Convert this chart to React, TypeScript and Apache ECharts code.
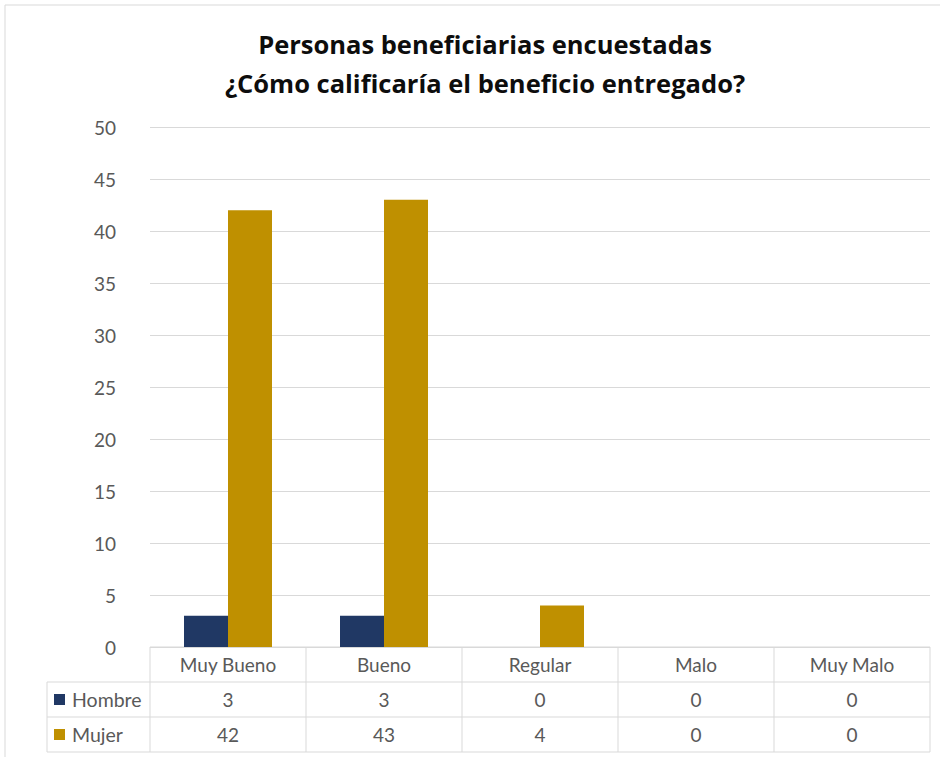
import React, { useEffect, useRef } from "react";
import * as echarts from "echarts";

const categories = ["Muy Bueno", "Bueno", "Regular", "Malo", "Muy Malo"];
const seriesNames = ["Hombre", "Mujer"];
const hombre = [3, 3, 0, 0, 0];
const mujer = [42, 43, 4, 0, 0];
const colors = ["#203864", "#BF9000"];
const titleLines = ["Personas beneficiarias encuestadas", "¿Cómo calificaría el beneficio entregado?"];

const W = 940;
const H = 757;
const L = 150;
const R = 930;
const T = 127;
const B = 647;
const rowH = 35;
const tableLeft = 47;
const FONT = "Lato, 'Open Sans', sans-serif";
const TFONT = "'Open Sans', Lato, sans-serif";
const FS = 19;
const TXT = "#595959";
const LINE = "#d9d9d9";

export default function App() {
  const ref = useRef<HTMLDivElement>(null);
  useEffect(() => {
    if (!ref.current) return;
    const chart = echarts.init(ref.current, undefined, { renderer: "svg" });
    const n = categories.length;
    const cw = (R - L) / n;
    const graphic: any[] = [];
    graphic.push({
      type: "rect",
      shape: { x: 5, y: 5, width: W, height: H },
      style: { fill: "none", stroke: LINE, lineWidth: 1 },
      silent: true,
    });
    titleLines.forEach((t, i) => {
      graphic.push({
        type: "text",
        x: 485,
        y: 44 + i * 39,
        style: { text: t, fill: "#0d0d0d", font: `bold 25.5px ${TFONT}`, align: "center", verticalAlign: "middle" },
        silent: true,
      });
    });
    const rowsY = [B, B + rowH, B + 2 * rowH, B + 3 * rowH];
    rowsY.forEach((y, i) => {
      graphic.push({
        type: "line",
        shape: { x1: i === 0 ? L : tableLeft, y1: y, x2: R, y2: y },
        style: { stroke: LINE, lineWidth: 1 },
        silent: true,
      });
    });
    graphic.push({
      type: "line",
      shape: { x1: tableLeft, y1: B + rowH, x2: tableLeft, y2: B + 3 * rowH },
      style: { stroke: LINE, lineWidth: 1 },
      silent: true,
    });
    for (let i = 0; i <= n; i++) {
      const x = L + i * cw;
      graphic.push({
        type: "line",
        shape: { x1: x, y1: B, x2: x, y2: B + 3 * rowH },
        style: { stroke: LINE, lineWidth: 1 },
        silent: true,
      });
    }
    const rows = [hombre, mujer];
    categories.forEach((c, i) => {
      const cx = L + (i + 0.5) * cw;
      graphic.push({
        type: "text",
        x: cx,
        y: B + rowH / 2,
        style: { text: c, fill: TXT, font: `${FS}px ${FONT}`, align: "center", verticalAlign: "middle" },
        silent: true,
      });
      rows.forEach((r, j) => {
        graphic.push({
          type: "text",
          x: cx,
          y: B + rowH * (j + 1.5),
          style: { text: String(r[i]), fill: TXT, font: `${FS}px ${FONT}`, align: "center", verticalAlign: "middle" },
          silent: true,
        });
      });
    });
    seriesNames.forEach((s, j) => {
      const cy = B + rowH * (j + 1.5);
      graphic.push({
        type: "rect",
        shape: { x: 54, y: cy - 5.5, width: 11, height: 11 },
        style: { fill: colors[j] },
        silent: true,
      });
      graphic.push({
        type: "text",
        x: 72,
        y: cy,
        style: { text: s, fill: TXT, font: `19.5px ${FONT}`, align: "left", verticalAlign: "middle" },
        silent: true,
      });
    });

    chart.setOption({
      animation: false,
      backgroundColor: "#ffffff",
      grid: { left: L, right: W - R, top: T, bottom: H - B },
      xAxis: {
        type: "category",
        data: categories,
        axisLine: { show: false },
        axisTick: { show: false },
        axisLabel: { show: false },
      },
      yAxis: {
        type: "value",
        min: 0,
        max: 50,
        interval: 5,
        axisLine: { show: false },
        axisTick: { show: false },
        axisLabel: { color: TXT, fontSize: FS, fontFamily: FONT, margin: 34 },
        splitLine: { lineStyle: { color: LINE, width: 1 } },
      },
      series: [
        { name: seriesNames[0], type: "bar", data: hombre, barWidth: 44, barGap: "0%", itemStyle: { color: colors[0] } },
        { name: seriesNames[1], type: "bar", data: mujer, barWidth: 44, barGap: "0%", itemStyle: { color: colors[1] } },
      ],
      graphic,
    });
    return () => chart.dispose();
  }, []);
  return <div ref={ref} style={{ position: "fixed", left: 0, top: 0, width: W, height: H }} />;
}
